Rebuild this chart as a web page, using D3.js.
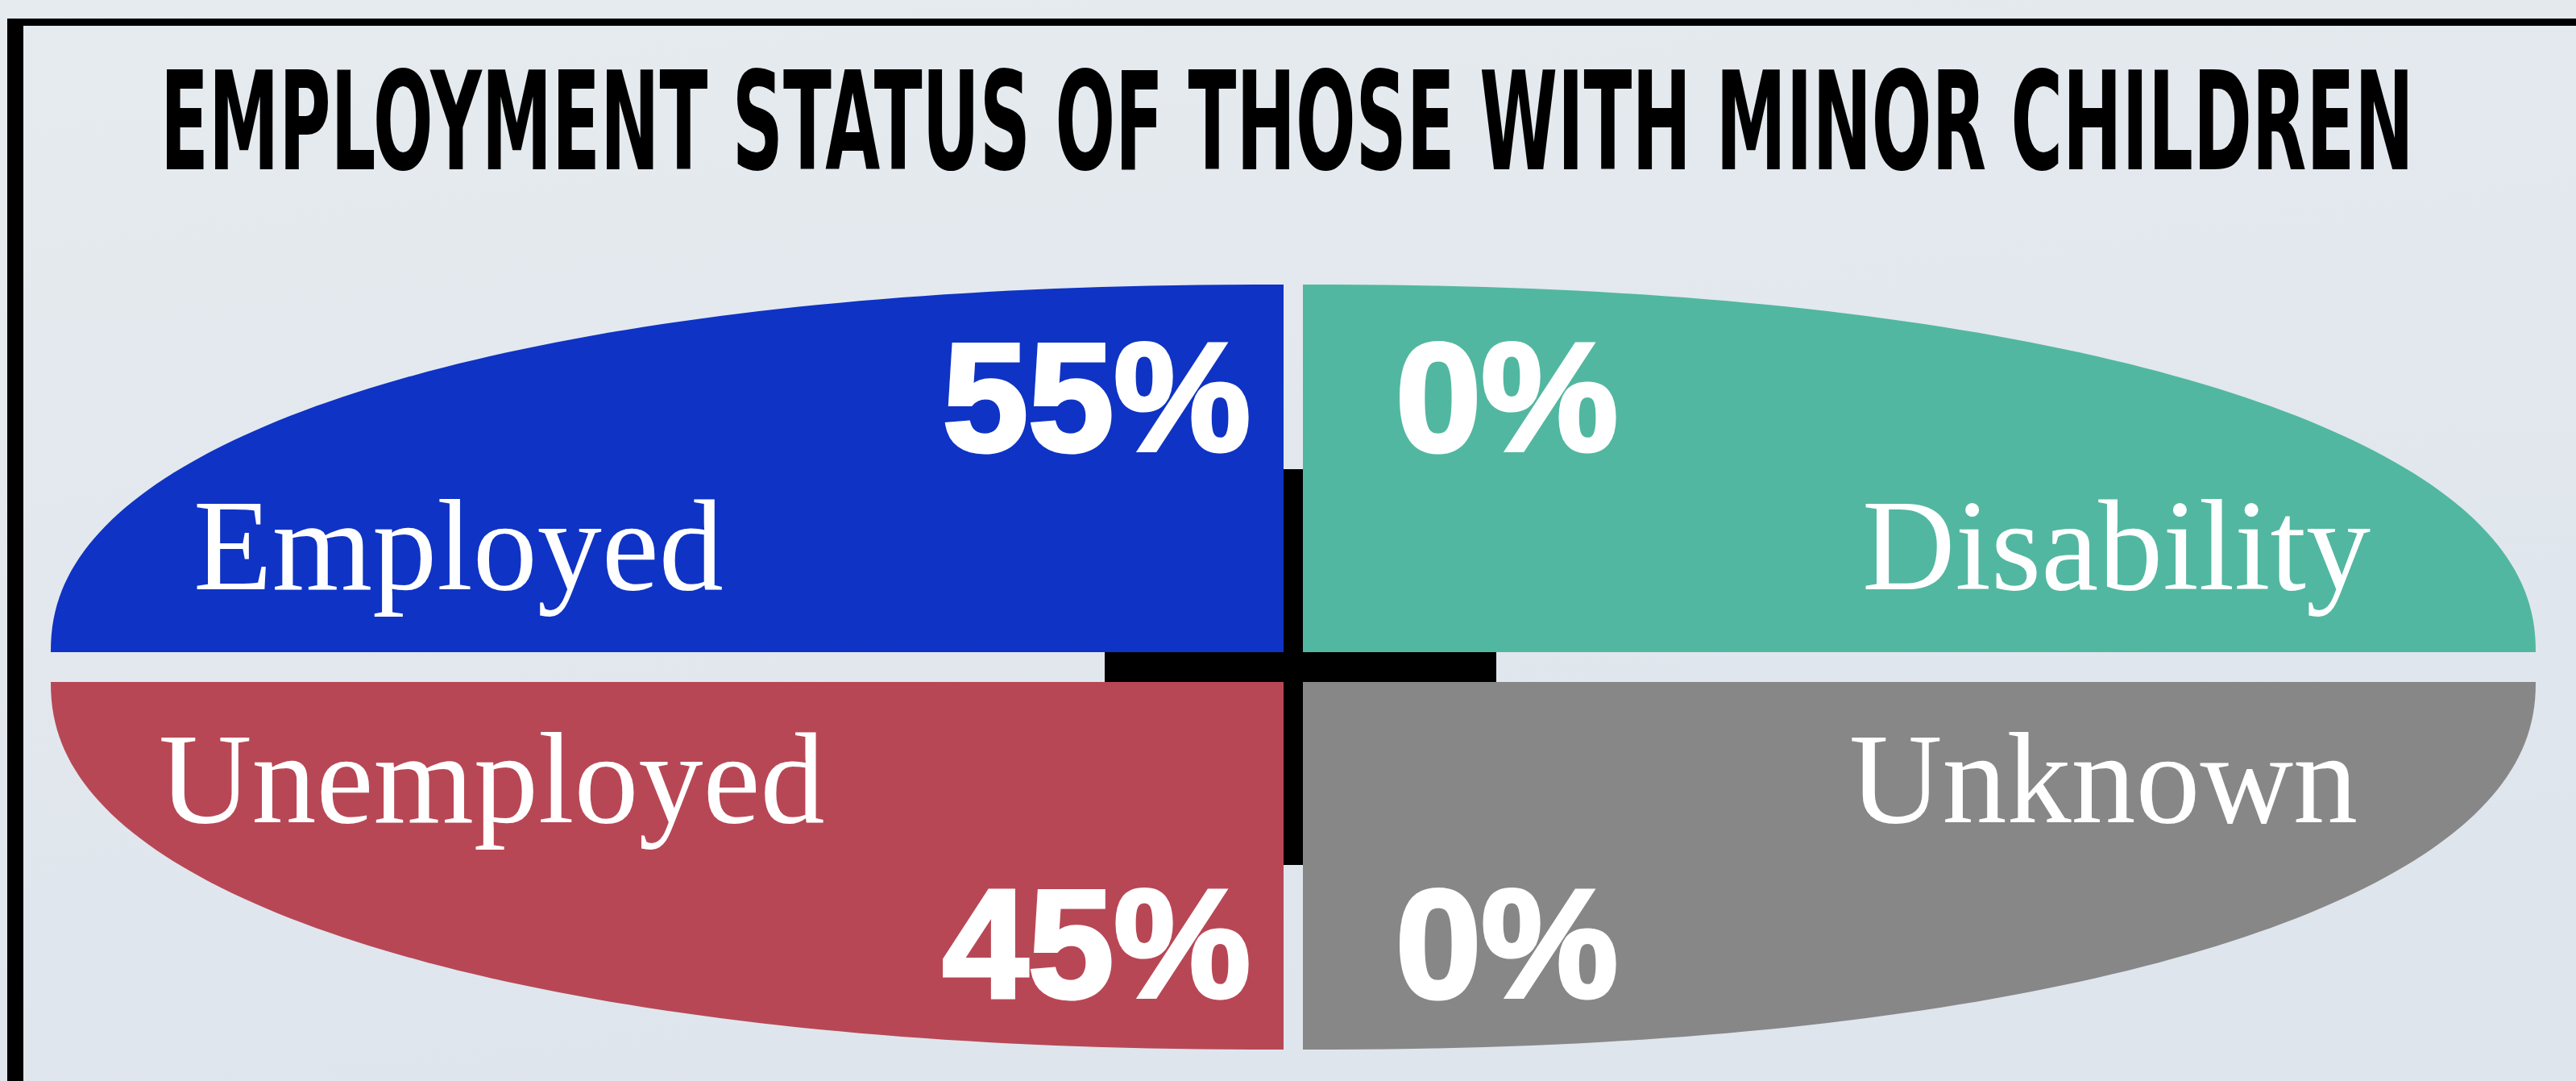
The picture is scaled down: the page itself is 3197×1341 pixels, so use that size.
<!DOCTYPE html>
<html>
<head>
<meta charset="utf-8">
<script src="https://cdn.jsdelivr.net/npm/d3@7"></script>
<style>
  html, body { margin: 0; padding: 0; background: #e3e8ee; overflow: hidden; }
</style>
</head>
<body>
<div class="container"></div>
<script>
const WIDTH = 3197;
const HEIGHT = 1341;

// data
var title = "EMPLOYMENT STATUS OF THOSE WITH MINOR CHILDREN";
var categories = ["Employed", "Disability", "Unemployed", "Unknown"];
var values = [55, 0, 45, 0];
var colors = ["#0f33c4", "#52b7a0", "#b84755", "#878787"];

// layout
const CX = 1605, CY = 827.5;      // centre of the whole oval
const GAP_X = 24, GAP_Y = 37;     // gaps between the four pieces
const RX = 1530, RY = 456;        // size of each piece
const SUPER = 2.2;                // oval "fullness"
const TITLE_X = 199, TITLE_W = 2797;

var translate = function (x, y) {
    return "translate(" + x + "," + y + ")";
};

// column / row of each category -> direction
var side = d3.scaleOrdinal().domain([0, 1]).range([-1, 1]);

var corner = function (i) {
    var sx = side(i % 2), sy = side(Math.floor(i / 2));
    return { sx: sx, sy: sy, x: CX + sx * GAP_X / 2, y: CY + sy * GAP_Y / 2 };
};

var piecePath = function (i) {
    var c = corner(i);
    var t = d3.scaleLinear().domain([0, 90]).range([0, Math.PI / 2]);
    var pts = [[0, 0]];
    d3.range(91).forEach(function (k) {
        var a = t(k);
        var px = Math.pow(Math.cos(a), 2 / SUPER);
        var py = Math.pow(Math.sin(a), 2 / SUPER);
        pts.push([c.sx * RX * px, c.sy * RY * py]);
    });
    var line = d3.line()
        .x(function (d) { return c.x + d[0]; })
        .y(function (d) { return c.y + d[1]; });
    return line(pts) + "Z";
};

var svg = d3.select(".container").append("svg")
    .attr("width", WIDTH)
    .attr("height", HEIGHT);

var defs = svg.append("defs");
var grad = defs.append("linearGradient")
    .attr("id", "bg").attr("x1", 0).attr("y1", 0).attr("x2", 0.3).attr("y2", 1);
grad.append("stop").attr("offset", 0).attr("stop-color", "#e6ebef");
grad.append("stop").attr("offset", 1).attr("stop-color", "#dfe5ed");

svg.append("rect")
    .attr("width", WIDTH).attr("height", HEIGHT)
    .attr("fill", "url(#bg)");

// frame (top and left edges only are visible)
svg.append("rect").attr("x", 9).attr("y", 23).attr("width", WIDTH - 9).attr("height", 9).attr("fill", "#000");
svg.append("rect").attr("x", 9).attr("y", 23).attr("width", 20).attr("height", HEIGHT - 23).attr("fill", "#000");

// title, squeezed horizontally to the width it has in the picture
var titleText = svg.append("text")
    .attr("x", 0)
    .attr("y", 0)
    .style("font-family", "'Liberation Sans Narrow', 'DejaVu Sans Condensed', 'Liberation Sans', sans-serif")
    .style("font-weight", "bold")
    .style("font-size", "169px")
    .attr("fill", "#000")
    .text(title);
var natural = titleText.node().getComputedTextLength();
titleText.attr("transform", translate(TITLE_X, 210) + " scale(" + (TITLE_W / natural) + ",1)");

// black cross behind the pieces
svg.append("rect")
    .attr("x", CX - GAP_X / 2).attr("y", 582)
    .attr("width", GAP_X).attr("height", 1073 - 582)
    .attr("fill", "#000");
svg.append("rect")
    .attr("x", 1371).attr("y", CY - GAP_Y / 2)
    .attr("width", 1857 - 1371).attr("height", GAP_Y)
    .attr("fill", "#000");

var pieces = svg.selectAll("g.piece")
    .data(categories)
    .enter()
    .append("g")
    .attr("class", "piece");

pieces.append("path")
    .attr("d", function (d, i) { return piecePath(i); })
    .attr("fill", function (d, i) { return colors[i]; });

// category names
pieces.append("text")
    .attr("x", function (d, i) {
        var c = corner(i);
        if (c.sx < 0) return c.x - (c.sy < 0 ? 1353 : 1396);
        return c.x + (c.sy < 0 ? 1325 : 1309);
    })
    .attr("y", function (d, i) {
        var c = corner(i);
        return c.sy < 0 ? c.y - 78 : c.y + 174;
    })
    .attr("text-anchor", function (d, i) { return corner(i).sx < 0 ? "start" : "end"; })
    .style("font-family", "'Liberation Serif', 'DejaVu Serif', serif")
    .style("font-size", "160px")
    .attr("fill", "#fff")
    .text(function (d) { return d; });

// percentages
pieces.append("text")
    .attr("x", function (d, i) {
        var c = corner(i);
        return c.sx < 0 ? c.x - 41 : c.x + 115;
    })
    .attr("y", function (d, i) {
        var c = corner(i);
        return c.sy < 0 ? c.y - 250 : c.y + 391;
    })
    .attr("text-anchor", function (d, i) { return corner(i).sx < 0 ? "end" : "start"; })
    .style("font-family", "'Liberation Sans', Arial, sans-serif")
    .style("font-weight", "bold")
    .style("font-size", "191px")
    .attr("fill", "#fff")
    .attr("stroke", "#fff")
    .attr("stroke-width", 5)
    .text(function (d, i) { return values[i] + "%"; });
</script>
</body>
</html>
